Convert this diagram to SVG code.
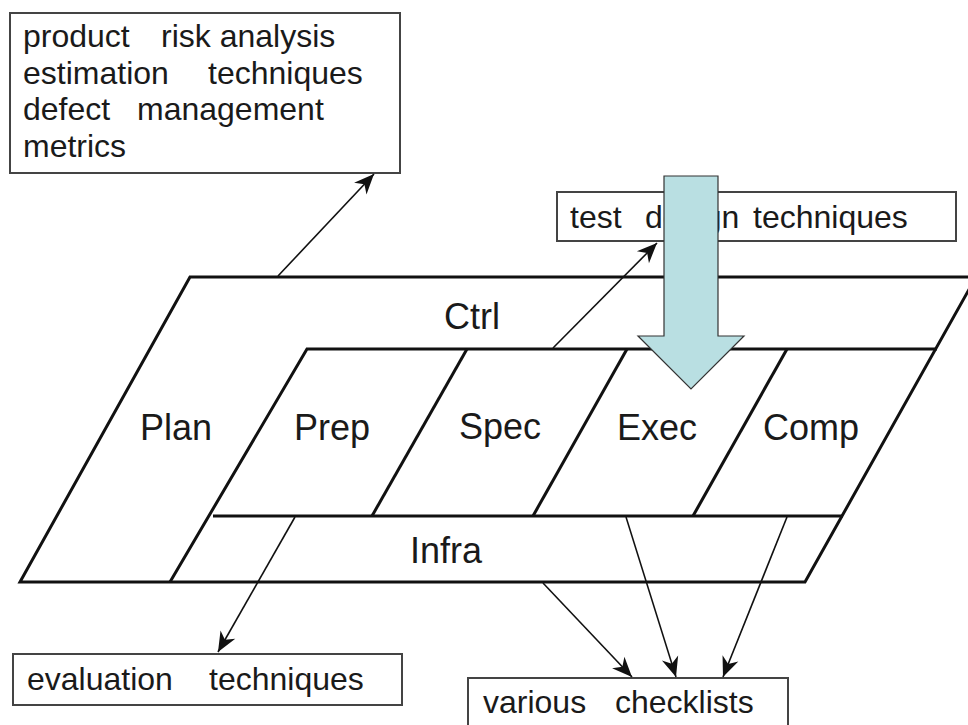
<svg xmlns="http://www.w3.org/2000/svg" width="968" height="725" viewBox="0 0 968 725">
  <style>
    .frame { fill: none; stroke: #111; stroke-width: 3; stroke-linejoin: miter; }
    .box { fill: #fff; stroke: #444; stroke-width: 2; }
    .note { font-family: "Liberation Sans", Arial, sans-serif; font-size: 32px; fill: #1a1a1a; }
    .phase { font-family: "Liberation Sans", Arial, sans-serif; font-size: 36px; fill: #1a1a1a; text-anchor: middle; }
    .link { fill: none; stroke: #111; stroke-width: 1.6; marker-end: url(#head); }
  </style>
  <defs>
    <marker id="head" viewBox="-21 -9 23 18" markerWidth="23" markerHeight="18" refX="0" refY="0" orient="auto" markerUnits="userSpaceOnUse">
      <path d="M0,0 L-20,-8.5 L-14,0 L-20,8.5 Z" fill="#111"/>
    </marker>
  </defs>
  <rect width="968" height="725" fill="#fff"/>

  <!-- Phase model: outer parallelogram with inner bands and dividers -->
  <g id="phase-model">
    <polygon class="frame" points="20,582 190,277 976,277 805,582"/>
    <polyline class="frame" points="937,349 307,349 170,582"/>
    <line class="frame" x1="213" y1="516" x2="843" y2="516"/>
    <line class="frame" x1="467" y1="349" x2="372" y2="516"/>
    <line class="frame" x1="627" y1="349" x2="533" y2="516"/>
    <line class="frame" x1="787" y1="349" x2="693" y2="516"/>
  </g>
  <g id="ctrl"><text class="phase" x="472" y="329">Ctrl</text></g>
  <g id="plan"><text class="phase" x="176" y="440">Plan</text></g>
  <g id="prep"><text class="phase" x="332" y="440">Prep</text></g>
  <g id="spec"><text class="phase" x="500" y="439">Spec</text></g>
  <g id="exec"><text class="phase" x="657" y="440">Exec</text></g>
  <g id="comp"><text class="phase" x="811" y="440">Comp</text></g>
  <g id="infra"><text class="phase" x="446" y="563">Infra</text></g>

  <!-- Technique boxes -->
  <g id="management-box">
    <rect class="box" x="10" y="13" width="390" height="160"/>
    <text class="note"><tspan x="23" y="47">product</tspan><tspan x="161" y="47">risk analysis</tspan></text>
    <text class="note"><tspan x="23" y="84">estimation</tspan><tspan x="208" y="84">techniques</tspan></text>
    <text class="note"><tspan x="23" y="120">defect</tspan><tspan x="137" y="120">management</tspan></text>
    <text class="note"><tspan x="23" y="157">metrics</tspan></text>
  </g>
  <g id="design-box">
    <rect class="box" x="557" y="192" width="399" height="49"/>
    <text class="note"><tspan x="570" y="228">test</tspan><tspan x="645" y="228">design</tspan><tspan x="753" y="228">techniques</tspan></text>
  </g>
  <g id="evaluation-box">
    <rect class="box" x="13" y="654" width="389" height="51"/>
    <text class="note"><tspan x="27" y="690">evaluation</tspan><tspan x="209" y="690">techniques</tspan></text>
  </g>
  <g id="checklists-box">
    <rect class="box" x="468" y="678" width="320" height="48"/>
    <text class="note"><tspan x="483" y="713">various</tspan><tspan x="615" y="713">checklists</tspan></text>
  </g>

  <!-- Connectors -->
  <g id="connectors">
    <line class="link" x1="278" y1="276" x2="374" y2="174"/>
    <line class="link" x1="553" y1="348" x2="657" y2="243"/>
    <line class="link" x1="295" y1="517" x2="218" y2="652"/>
    <line class="link" x1="543" y1="583" x2="632" y2="677"/>
    <line class="link" x1="626" y1="517" x2="676" y2="677"/>
    <line class="link" x1="787" y1="517" x2="723" y2="677"/>
  </g>

  <!-- Block arrow pointing down onto Exec -->
  <g id="focus-arrow">
    <polygon points="664,176 718,176 718,336 744,336 691,389 638,336 664,336" fill="#b9dfe2" stroke="#333" stroke-width="1.2"/>
  </g>
</svg>
